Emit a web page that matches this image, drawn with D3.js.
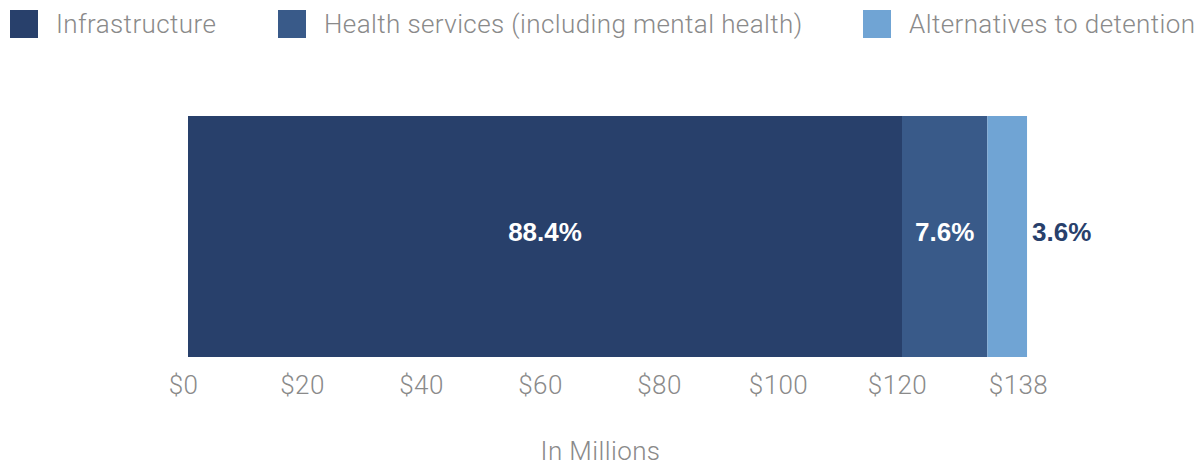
<!DOCTYPE html>
<html>
<head>
<meta charset="utf-8">
<script src="https://cdn.jsdelivr.net/npm/d3@7"></script>
<style>
  body { margin: 0; background: #fff; }
  svg { display: block; }
  .light { font-family: "Helvetica Neue", Roboto, "Liberation Sans", sans-serif; font-weight: 300; fill: #8a8a8a; letter-spacing: 0.4px; }
  .pct { font-family: "Helvetica Neue", "Liberation Sans", Arial, sans-serif; font-weight: bold; }
</style>
</head>
<body>
<svg id="chart"></svg>
<script>
// Data (millions of dollars)
const categories = ["Infrastructure", "Health services (including mental health)", "Alternatives to detention"];
const amounts = [120, 12.7, 5.9];
const shares = ["88.4%", "7.6%", "3.6%"];
const tickValues = [0, 20, 40, 60, 80, 100, 120, 138];
const tickLabels = ["$0", "$20", "$40", "$60", "$80", "$100", "$120", "$138"];
const axisTitle = "In Millions";

const colors = ["#28406b", "#395a89", "#70a4d4"];

// Dimensions
const svg_width = 1201;
const svg_height = 466;

const svg = d3.select("#chart")
    .attr("width", svg_width)
    .attr("height", svg_height);

// Scales (axis labels are evenly spaced, last one is $138)
const xScale = d3.scaleLinear()
    .domain([0, 120, 138])
    .range([188, 902, 1023]);

const yScale = d3.scaleBand()
    .domain(["total"])
    .range([116, 357]);

const color = d3.scaleOrdinal().domain(categories).range(colors);

// Stack the segments
let running = 0;
const segments = categories.map((c, i) => {
    const s = { cat: c, x0: running, x1: running + amounts[i], share: shares[i] };
    running += amounts[i];
    return s;
});

// Bars
svg.selectAll("rect.seg")
    .data(segments)
    .enter()
    .append("rect")
    .attr("class", "seg")
    .attr("x", d => xScale(d.x0))
    .attr("y", yScale("total"))
    .attr("width", d => xScale(d.x1) - xScale(d.x0))
    .attr("height", yScale.bandwidth())
    .attr("fill", d => color(d.cat));

// Percentage labels (last one sits outside the bar)
const last = segments.length - 1;
svg.selectAll("text.pct")
    .data(segments)
    .enter()
    .append("text")
    .attr("class", "pct")
    .attr("x", (d, i) => i === last ? xScale(d.x1) + 5 : (xScale(d.x0) + xScale(d.x1)) / 2)
    .attr("y", yScale("total") + yScale.bandwidth() / 2 - 5)
    .attr("dy", "0.36em")
    .attr("text-anchor", (d, i) => i === last ? "start" : "middle")
    .attr("font-size", 26)
    .attr("fill", (d, i) => i === last ? colors[0] : "#fff")
    .text(d => d.share);

// X axis
const xAxis = d3.axisBottom(xScale)
    .tickValues(tickValues)
    .tickFormat((d, i) => tickLabels[i])
    .tickSize(0)
    .tickPadding(0);

const axisG = svg.append("g")
    .attr("transform", "translate(-5, 385)")
    .call(xAxis);
axisG.select(".domain").remove();
axisG.selectAll("text")
    .attr("class", "light")
    .attr("y", 0)
    .attr("dy", "0.36em")
    .attr("font-size", 26)
    .style("fill", "#8a8a8a");

// Axis title
svg.append("text")
    .attr("class", "light")
    .attr("x", (xScale(0) + xScale(138)) / 2 - 5)
    .attr("y", 451)
    .attr("dy", "0.36em")
    .attr("text-anchor", "middle")
    .attr("font-size", 26)
    .text(axisTitle);

// Legend
const legendX = [10, 278, 863];
const legend = svg.selectAll("g.legend")
    .data(categories)
    .enter()
    .append("g")
    .attr("class", "legend")
    .attr("transform", (d, i) => `translate(${legendX[i]}, 10)`);

legend.append("rect")
    .attr("width", 28)
    .attr("height", 28)
    .attr("fill", d => color(d));

legend.append("text")
    .attr("class", "light")
    .attr("x", 46)
    .attr("y", 14)
    .attr("dy", "0.36em")
    .attr("font-size", 26)
    .text(d => d);
</script>
</body>
</html>
